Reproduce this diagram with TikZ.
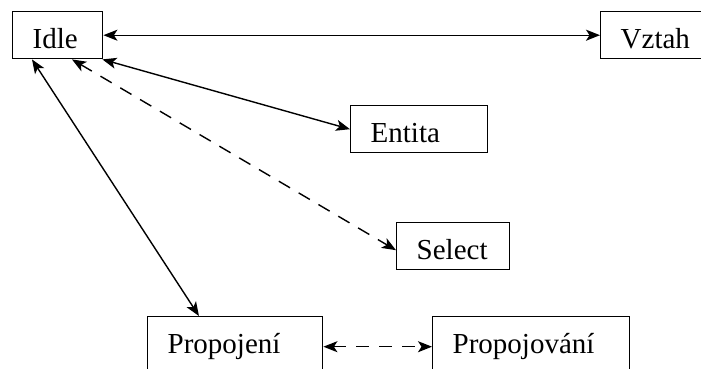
\documentclass[tikz,border=0pt]{standalone}
\usepackage{fontspec}
\setmainfont{Liberation Serif}
\usetikzlibrary{arrows.meta}
\begin{document}
\begin{tikzpicture}[x=1pt,y=-1pt,
  state/.style={draw,line width=1.4pt,rectangle,anchor=north west,
    inner xsep=20pt,inner ysep=0pt,align=left,
    text height=37pt,text depth=10pt,
    font=\fontsize{29}{32}\selectfont},
  tip/.tip={Stealth[length=14pt,width=11pt,inset=3.5pt]},
  link/.style={line width=1.4pt,tip-tip},
  dashlink/.style={link,dash pattern=on 13pt off 10pt}]
\useasboundingbox (0,0) rectangle (701,368);
\clip (0,0) rectangle (701,368);
% states
\node[state,text width=50pt]  (idle)   at (12,11)  {Idle};
\node[state,text width=100pt] (vztah)  at (600,11) {Vztah};
\node[state,text width=97pt]  (entita) at (350,105) {Entita};
\node[state,text width=73pt]  (select) at (396,222) {Select};
\node[state,text width=135pt,text depth=23pt] (propojeni)   at (147,316) {Propojení};
\node[state,text width=157pt,text depth=23pt] (propojovani) at (432,316) {Propojování};
% transitions
\draw[link] (idle.east) -- (vztah.west);
\draw[link] ([xshift=-1pt]idle.south east) -- (entita.west);
\draw[dashlink] ([xshift=60pt]idle.south west) -- ([yshift=-4pt]select.west);
\draw[link] ([xshift=20pt]idle.south west) -- ([xshift=52pt]propojeni.north west);
\draw[dashlink] (propojeni.east) -- (propojovani.west);
\end{tikzpicture}
\end{document}
